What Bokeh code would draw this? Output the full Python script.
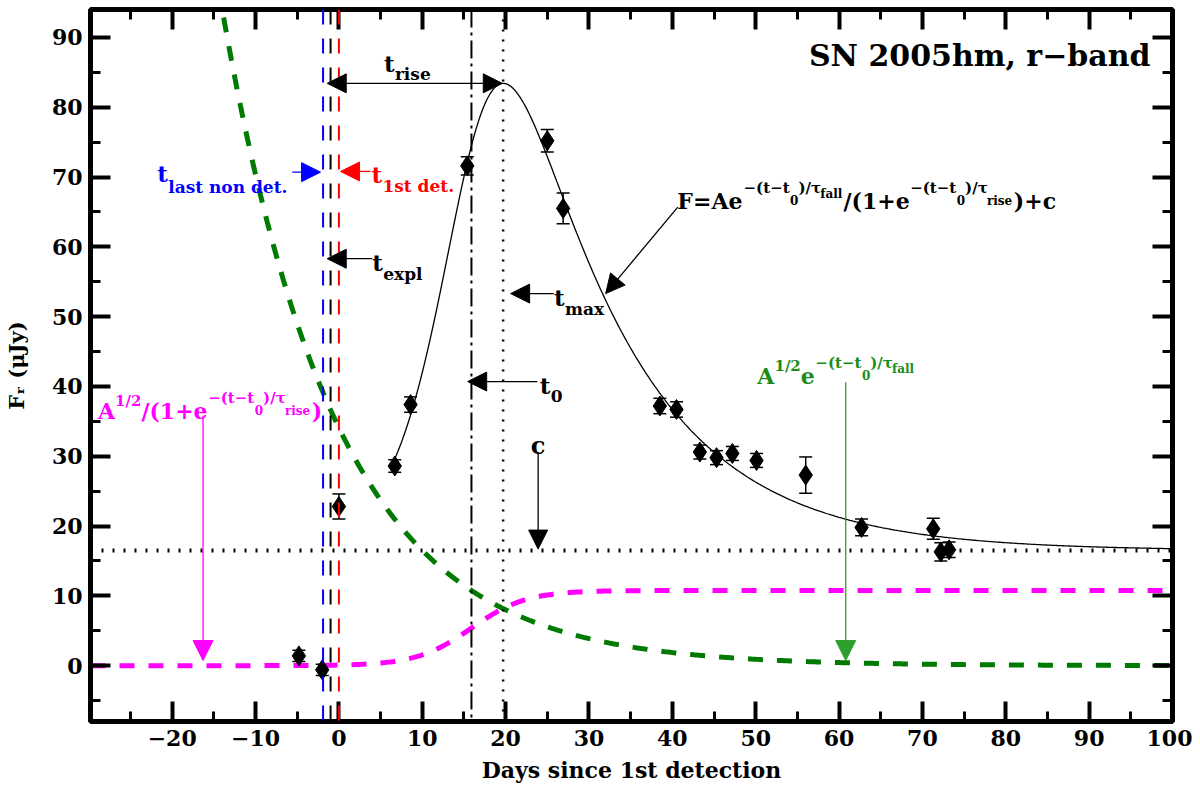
import numpy as np
from bokeh.plotting import figure
from bokeh.models import (ColumnDataSource, Whisker, TeeHead, Span, Label, Arrow,
                          NormalHead, LinearAxis, SingleIntervalTicker, Range1d,
                          CustomJSTickFormatter)
from bokeh.embed import file_html
from bokeh.resources import INLINE

# photometry of SN 2005hm, r-band (days since 1st detection, flux in microJy)
t_obs = [-4.8, -2.0, 0.0, 6.7, 8.6, 15.4, 25.0, 26.9, 38.5, 40.5, 43.3, 45.3,
         47.2, 50.1, 56.0, 62.7, 71.3, 72.2, 73.2]
flux = [1.4, -0.6, 22.8, 28.6, 37.4, 71.6, 75.2, 65.5, 37.2, 36.7, 30.6, 29.8,
        30.4, 29.4, 27.3, 19.8, 19.6, 16.3, 16.6]
flux_err = [0.8, 0.8, 1.8, 0.9, 1.1, 1.3, 1.6, 2.2, 1.1, 1.1, 1.0, 1.0,
            1.0, 1.0, 2.6, 1.2, 1.5, 1.3, 1.1]

# fit parameters
A = 116.0
t0 = 15.9
tau_rise = 3.3
tau_fall = 13.8
c = 16.5
t_max = 19.7
t_last_nondet = -1.9
t_expl = -1.0
t_first_det = 0.0

x_lo, x_hi = -29.8, 100.0
y_lo, y_hi = -8.0, 94.0

FONT = "DejaVu Serif"
GREEN = "#007a00"
GREEN_TXT = "#1a8c1a"
MAGENTA = "#ff00ff"

# rough advance widths (em) of DejaVu Serif Bold, to place sub/superscripts
W = {" ": .348, ".": .38, ",": .38, "(": .473, ")": .473, "/": .365, "+": .838,
     "=": .838, "\u2212": .838, "0": .696, "1": .696, "2": .696, "A": .776,
     "F": .735, "a": .675, "c": .617, "d": .735, "e": .66, "f": .436, "i": .408,
     "l": .408, "m": 1.107, "n": .76, "o": .687, "p": .735, "r": .574, "s": .595,
     "t": .478, "x": .707, "\u03c4": .62}


def text_w(s, size):
    return sum(W.get(ch, .65) for ch in s) * size


def rich(p, x, y, runs, color="black"):
    dx = 0.0
    for txt, size, rise in runs:
        p.add_layout(Label(x=x, y=y, x_offset=dx, y_offset=rise, text=txt,
                           text_font=FONT, text_font_style="bold",
                           text_font_size=f"{size}px", text_color=color,
                           text_align="left", text_baseline="alphabetic"))
        dx += text_w(txt, size)


p = figure(frame_width=1082, frame_height=712, min_border_left=90,
           min_border_right=20, min_border_top=9, min_border_bottom=60,
           x_range=Range1d(x_lo, x_hi), y_range=Range1d(y_lo, y_hi),
           output_backend="svg", toolbar_location=None, background_fill_color="white")
p.grid.visible = False
p.outline_line_color = "black"
p.outline_line_width = 5

xt = SingleIntervalTicker(interval=10, num_minor_ticks=2)
yt = SingleIntervalTicker(interval=10, num_minor_ticks=2)


def style_axis(ax):
    ax.axis_line_width = 5
    ax.major_tick_in = 20
    ax.major_tick_out = 0
    ax.minor_tick_in = 10
    ax.minor_tick_out = 0
    ax.major_tick_line_width = 4
    ax.minor_tick_line_width = 3
    ax.major_label_text_font = FONT
    ax.major_label_text_font_style = "bold"
    ax.major_label_text_font_size = "22px"
    ax.major_label_text_color = "black"
    ax.axis_label_text_font = FONT
    ax.axis_label_text_font_style = "bold"
    ax.axis_label_text_color = "black"


xa = p.xaxis[0]
ya = p.yaxis[0]
xa.ticker = xt
ya.ticker = yt
style_axis(xa)
style_axis(ya)
xa.major_label_standoff = 8
ya.major_label_standoff = 8
xa.major_label_overrides = {-20: "\u221220", -10: "\u221210"}
xa.axis_label = "Days since 1st detection"
xa.axis_label_text_font_size = "22px"
xa.axis_label_standoff = 8
ya.axis_label = "F\u1d63 (\u03bcJy)"
ya.axis_label_text_font_size = "21px"
ya.axis_label_standoff = 20

blank = CustomJSTickFormatter(code="return ''")
for side, tk in (("above", xt), ("right", yt)):
    ax = LinearAxis(ticker=tk, formatter=blank, major_label_standoff=0)
    style_axis(ax)
    p.add_layout(ax, side)

# model components
tt = np.linspace(x_lo, x_hi, 600)
rise_part = np.sqrt(A) / (1 + np.exp(-(tt - t0) / tau_rise))
fall_part = np.sqrt(A) * np.exp(-(tt - t0) / tau_fall)
p.line(tt, rise_part, line_color=MAGENTA, line_width=5, line_dash="15 14")
p.line(tt, fall_part, line_color=GREEN, line_width=5, line_dash="15 14")

tf = np.linspace(t_obs[3], x_hi, 500)
fit = A * np.exp(-(tf - t0) / tau_fall) / (1 + np.exp(-(tf - t0) / tau_rise)) + c
p.line(tf, fit, line_color="black", line_width=1.3)

# reference lines
for loc, col in ((t_last_nondet, "#0000ff"), (t_expl, "black"), (t_first_det, "#ff0000")):
    p.add_layout(Span(location=loc, dimension="height", line_color=col,
                      line_width=2, line_dash="15 14"))
p.add_layout(Span(location=t0, dimension="height", line_color="black",
                  line_width=2, line_dash="18 5 3 5"))
p.add_layout(Span(location=t_max, dimension="height", line_color="black",
                  line_width=2.5, line_dash="2 8"))
p.add_layout(Span(location=c, dimension="width", line_color="black",
                  line_width=4, line_dash="2 9"))

# data with error bars
src = ColumnDataSource(dict(t=t_obs, f=flux,
                            lo=[f - e for f, e in zip(flux, flux_err)],
                            hi=[f + e for f, e in zip(flux, flux_err)]))
p.add_layout(Whisker(base="t", upper="hi", lower="lo", source=src, line_width=1.5,
                     line_color="black",
                     upper_head=TeeHead(size=13, line_width=1.5, line_color="black"),
                     lower_head=TeeHead(size=13, line_width=1.5, line_color="black")))
p.scatter("t", "f", source=src, marker="diamond", size=20, fill_color="black",
          line_color="black")


def arrow(x0, y0, x1, y1, color="black", size=19, both=False):
    head = dict(size=size, fill_color=color, line_color=color, line_width=1)
    p.add_layout(Arrow(x_start=x0, y_start=y0, x_end=x1, y_end=y1,
                       line_color=color, line_width=1.3, end=NormalHead(**head),
                       start=NormalHead(**head) if both else None))


# t_rise
peak = A * np.exp(-(t_max - t0) / tau_fall) / (1 + np.exp(-(t_max - t0) / tau_rise)) + c
arrow(t_last_nondet + 0.5, peak, t_max - 0.1, peak, both=True)
rich(p, 5.4, 86.2, [("t", 23, 0), ("rise", 17, -10)])

# t_last non det. / t_1st det.
arrow(-5.6, 70.7, t_last_nondet - 0.3, 70.7, color="#0000ff")
rich(p, -21.8, 70.45, [("t", 23, 0), ("last non det.", 17, -13)], color="#0000ff")
arrow(3.8, 70.8, t_first_det + 0.2, 70.8, color="#ff0000")
rich(p, 3.9, 70.35, [("t", 23, 0), ("1st det.", 17, -11.7)], color="#ff0000")

# t_expl, t_max, t_0
arrow(4.0, 58.3, t_expl - 0.4, 58.3)
rich(p, 4.0, 57.8, [("t", 23, 0), ("expl", 17, -11.6)])
arrow(25.8, 53.3, t_max + 0.9, 53.3)
rich(p, 25.8, 52.7, [("t", 23, 0), ("max", 17, -11)])
arrow(23.8, 40.7, t0 - 0.45, 40.7)
rich(p, 24.1, 40.2, [("t", 23, 0), ("0", 17, -10.7)])

# c
p.add_layout(Label(x=23.9, y=31.5, text="c", text_font=FONT, text_font_style="bold",
                   text_font_size="24px", text_align="center", text_baseline="alphabetic",
                   text_color="black"))
arrow(23.9, 30.6, 23.9, c + 0.2)

# full model formula
M, S, T = 22, 15, 12
rich(p, 40.6, 66.6, [("F=Ae", M, 0), ("\u2212(t\u2212t", S, 13), ("0", T, 1),
                     (")/\u03c4", S, 13), ("fall", T, 7), ("/(1+e", M, 0),
                     ("\u2212(t\u2212t", S, 13), ("0", T, 1), (")/\u03c4", S, 13),
                     ("rise", T, 0), (")+c", M, 0)])
arrow(40.65, 65.7, 32.0, 53.3)

# component formulas
rich(p, 50.2, 41.55, [("A", M, 0), ("1/2", S, 10), ("e", M, 0), ("\u2212(t\u2212t", S, 13),
                      ("0", T, 1), (")/\u03c4", S, 13), ("fall", T, 7)], color=GREEN_TXT)
arrow(60.8, 40.6, 60.8, 0.73, color="#2ca02c", size=20)

rich(p, -28.9, 36.45, [("A", M, 0), ("1/2", S, 10), ("/(1+e", M, 0), ("\u2212(t\u2212t", S, 13),
                       ("0", T, 1), (")/\u03c4", S, 13), ("rise", T, 0), (")", M, 0)],
     color=MAGENTA)
arrow(-16.3, 35.8, -16.3, 0.73, color=MAGENTA, size=20)

p.add_layout(Label(x=x_hi, y=87.4, x_offset=-22, text="SN 2005hm, r\u2212band",
                   text_font=FONT, text_font_style="bold", text_font_size="30px",
                   text_align="right", text_baseline="alphabetic", text_color="black"))

open("out.html", "w").write(file_html(p, INLINE))
